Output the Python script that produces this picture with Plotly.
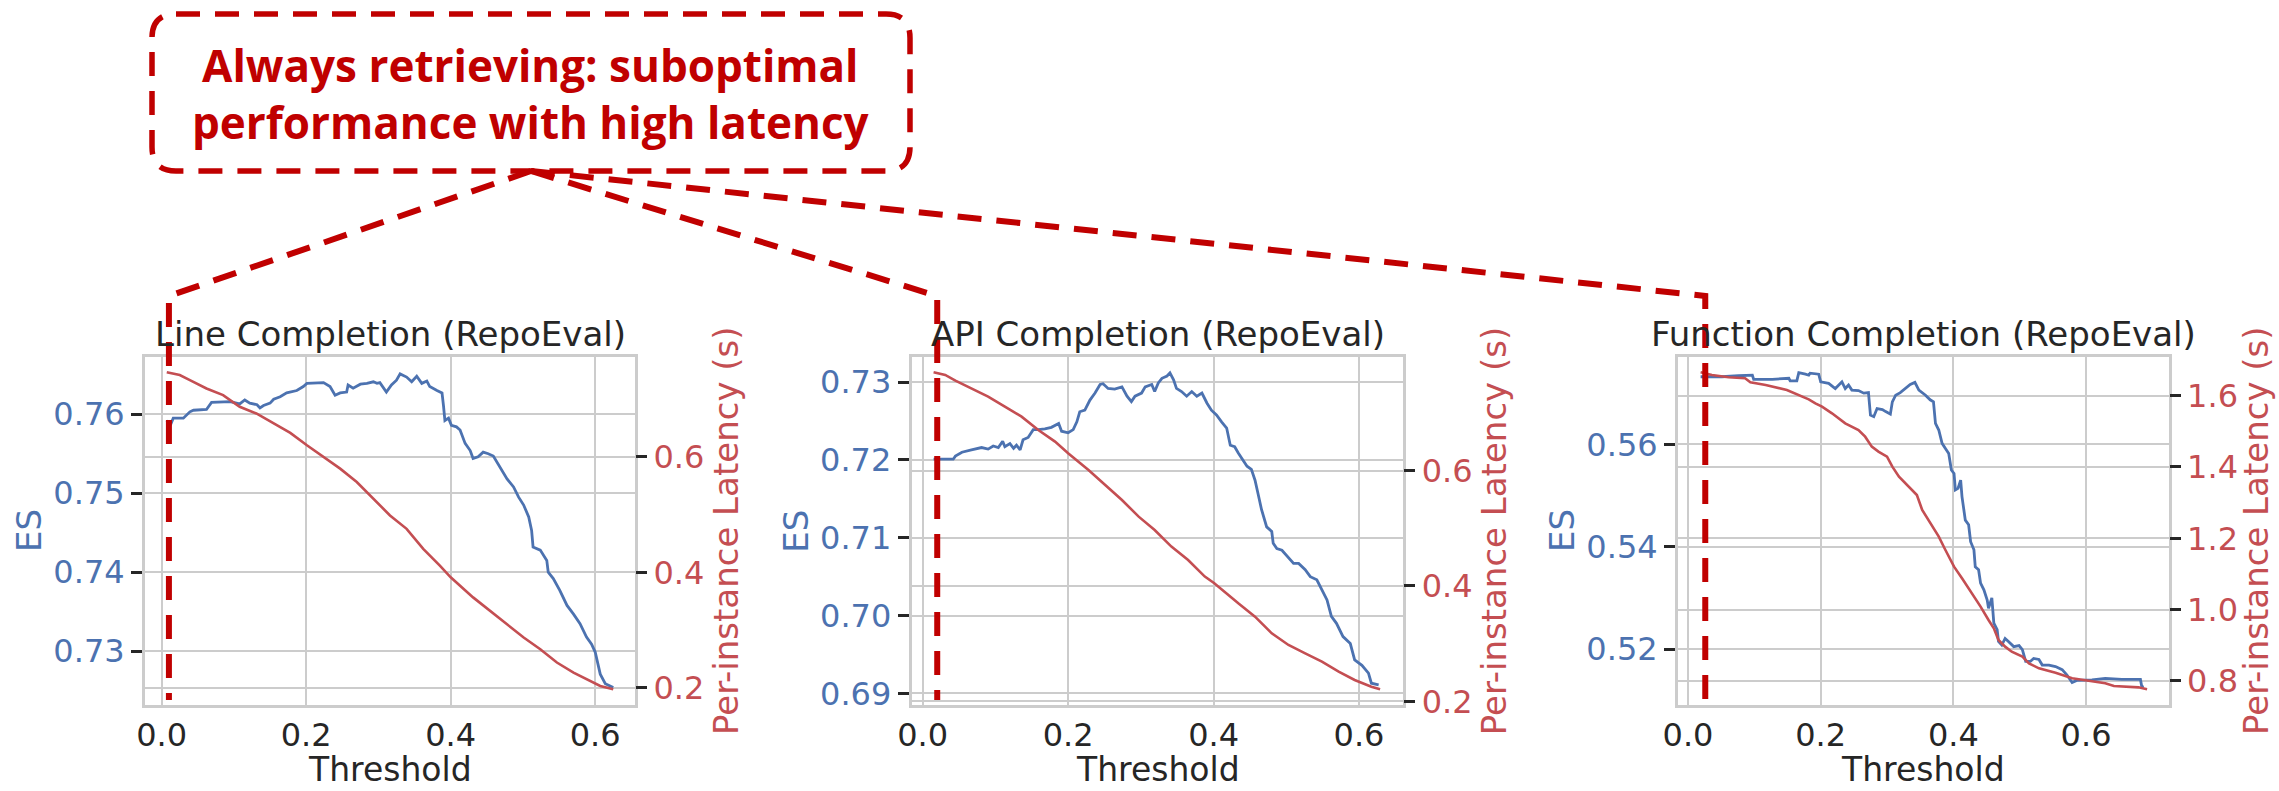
import plotly.graph_objects as go

W, H = 2279, 791

# ---------------- data ----------------
# Line Completion (RepoEval)
line_es_thr = [0.007, 0.012, 0.016, 0.030, 0.039, 0.044, 0.062, 0.069, 0.095, 0.108,
               0.115, 0.122, 0.132, 0.136, 0.141, 0.150, 0.155, 0.164, 0.173, 0.187,
               0.196, 0.201, 0.224, 0.233, 0.240, 0.247, 0.256, 0.258, 0.265, 0.275,
               0.284, 0.293, 0.298, 0.302, 0.311, 0.318, 0.325, 0.330, 0.339, 0.346,
               0.353, 0.360, 0.367, 0.371, 0.381, 0.388, 0.390, 0.392, 0.397, 0.401,
               0.408, 0.413, 0.420, 0.427, 0.431, 0.438, 0.445, 0.452, 0.459, 0.468,
               0.478, 0.487, 0.494, 0.501, 0.508, 0.512, 0.514, 0.524, 0.533, 0.535,
               0.542, 0.551, 0.561, 0.570, 0.579, 0.588, 0.595, 0.600, 0.603, 0.607,
               0.614, 0.625]
line_es = [0.7592, 0.7586, 0.7595, 0.7595, 0.7603, 0.7605, 0.7606, 0.7615, 0.7616, 0.7613,
           0.7618, 0.7614, 0.7612, 0.7608, 0.7611, 0.7614, 0.7619, 0.7622, 0.7627, 0.7630,
           0.7635, 0.7639, 0.7640, 0.7635, 0.7624, 0.7627, 0.7628, 0.7637, 0.7633, 0.7638,
           0.7639, 0.7641, 0.7639, 0.7640, 0.7628, 0.7637, 0.7643, 0.7651, 0.7647, 0.7641,
           0.7648, 0.7639, 0.7642, 0.7635, 0.7630, 0.7627, 0.7611, 0.7592, 0.7595, 0.7586,
           0.7584, 0.7580, 0.7563, 0.7554, 0.7544, 0.7546, 0.7552, 0.7550, 0.7547, 0.7533,
           0.7518, 0.7508, 0.7495, 0.7485, 0.7470, 0.7453, 0.7432, 0.7428, 0.7415, 0.7400,
           0.7392, 0.7377, 0.7358, 0.7347, 0.7335, 0.7318, 0.7309, 0.7299, 0.7288, 0.7271,
           0.7259, 0.7254]
line_lat_thr = [0.007, 0.025, 0.039, 0.062, 0.085, 0.108, 0.131, 0.155, 0.178, 0.201,
                0.224, 0.247, 0.270, 0.293, 0.316, 0.339, 0.362, 0.385, 0.400, 0.431,
                0.454, 0.478, 0.501, 0.524, 0.547, 0.570, 0.593, 0.607, 0.625]
line_lat = [0.7467, 0.7420, 0.7333, 0.7188, 0.7072, 0.6870, 0.6754, 0.6580, 0.6417, 0.6203,
            0.6000, 0.5797, 0.5565, 0.5275, 0.4986, 0.4754, 0.4406, 0.4116, 0.3913, 0.3565,
            0.3333, 0.3101, 0.2870, 0.2667, 0.2435, 0.2261, 0.2116, 0.2029, 0.1971]

# API Completion (RepoEval)
api_es_thr = [0.015, 0.042, 0.045, 0.054, 0.067, 0.081, 0.090, 0.097, 0.104, 0.110,
              0.113, 0.120, 0.125, 0.129, 0.134, 0.138, 0.145, 0.152, 0.159, 0.168,
              0.177, 0.187, 0.191, 0.200, 0.207, 0.212, 0.216, 0.223, 0.230, 0.237,
              0.244, 0.248, 0.255, 0.264, 0.274, 0.281, 0.287, 0.292, 0.301, 0.306,
              0.315, 0.319, 0.324, 0.329, 0.336, 0.340, 0.345, 0.349, 0.356, 0.363,
              0.370, 0.377, 0.384, 0.391, 0.397, 0.404, 0.411, 0.418, 0.423, 0.429,
              0.434, 0.441, 0.446, 0.452, 0.457, 0.462, 0.466, 0.473, 0.480, 0.482,
              0.487, 0.494, 0.503, 0.510, 0.517, 0.526, 0.533, 0.542, 0.549, 0.556,
              0.562, 0.569, 0.578, 0.588, 0.594, 0.604, 0.613, 0.617, 0.627]
api_es = [0.7201, 0.7201, 0.7205, 0.7210, 0.7213, 0.7216, 0.7214, 0.7218, 0.7216, 0.7224,
          0.7217, 0.7221, 0.7215, 0.7219, 0.7213, 0.7226, 0.7229, 0.7239, 0.7239, 0.7240,
          0.7242, 0.7247, 0.7237, 0.7235, 0.7239, 0.7249, 0.7262, 0.7264, 0.7277, 0.7286,
          0.7297, 0.7298, 0.7292, 0.7291, 0.7294, 0.7282, 0.7275, 0.7282, 0.7286, 0.7294,
          0.7297, 0.7288, 0.7299, 0.7305, 0.7308, 0.7312, 0.7303, 0.7292, 0.7288, 0.7282,
          0.7288, 0.7282, 0.7286, 0.7273, 0.7264, 0.7258, 0.7249, 0.7241, 0.7219, 0.7217,
          0.7209, 0.7200, 0.7192, 0.7188, 0.7174, 0.7153, 0.7136, 0.7114, 0.7108, 0.7093,
          0.7086, 0.7084, 0.7074, 0.7067, 0.7067, 0.7059, 0.7050, 0.7046, 0.7033, 0.7020,
          0.6999, 0.6990, 0.6973, 0.6964, 0.6943, 0.6936, 0.6926, 0.6913, 0.6911]
api_lat_thr = [0.015, 0.031, 0.045, 0.067, 0.090, 0.113, 0.136, 0.159, 0.182, 0.200,
               0.228, 0.251, 0.274, 0.297, 0.319, 0.342, 0.365, 0.388, 0.401, 0.434,
               0.457, 0.480, 0.503, 0.526, 0.549, 0.572, 0.594, 0.617, 0.629]
api_lat = [0.7705, 0.7659, 0.7561, 0.7428, 0.7283, 0.7110, 0.6936, 0.6705, 0.6503, 0.6301,
           0.6012, 0.5751, 0.5491, 0.5202, 0.4971, 0.4682, 0.4451, 0.4162, 0.4046, 0.3699,
           0.3468, 0.3179, 0.2977, 0.2832, 0.2688, 0.2514, 0.2370, 0.2254, 0.2208]

# Function Completion (RepoEval)
func_es_thr = [0.019, 0.051, 0.076, 0.097, 0.099, 0.127, 0.152, 0.154, 0.164, 0.167,
               0.177, 0.182, 0.184, 0.197, 0.200, 0.212, 0.222, 0.232, 0.237, 0.242,
               0.247, 0.257, 0.265, 0.272, 0.275, 0.280, 0.285, 0.293, 0.298, 0.305,
               0.308, 0.313, 0.320, 0.328, 0.335, 0.342, 0.348, 0.358, 0.365, 0.370,
               0.373, 0.378, 0.383, 0.388, 0.393, 0.397, 0.401, 0.403, 0.407, 0.411,
               0.413, 0.418, 0.423, 0.426, 0.431, 0.433, 0.438, 0.441, 0.446, 0.451,
               0.453, 0.458, 0.461, 0.466, 0.468, 0.473, 0.478, 0.483, 0.491, 0.499,
               0.504, 0.509, 0.516, 0.521, 0.529, 0.534, 0.544, 0.554, 0.564, 0.571,
               0.579, 0.586, 0.594, 0.609, 0.629, 0.654, 0.682, 0.684, 0.687]
func_es = [0.5732, 0.5732, 0.5734, 0.5735, 0.5727, 0.5727, 0.5729, 0.5724, 0.5724, 0.5740,
           0.5737, 0.5735, 0.5739, 0.5737, 0.5722, 0.5719, 0.5709, 0.5722, 0.5709, 0.5716,
           0.5706, 0.5705, 0.5700, 0.5701, 0.5657, 0.5654, 0.5670, 0.5668, 0.5664, 0.5659,
           0.5683, 0.5696, 0.5701, 0.5709, 0.5717, 0.5721, 0.5706, 0.5696, 0.5687, 0.5683,
           0.5641, 0.5628, 0.5602, 0.5592, 0.5582, 0.5550, 0.5543, 0.5511, 0.5514, 0.5530,
           0.5498, 0.5452, 0.5443, 0.5410, 0.5394, 0.5361, 0.5355, 0.5329, 0.5316, 0.5296,
           0.5280, 0.5300, 0.5251, 0.5238, 0.5215, 0.5208, 0.5221, 0.5215, 0.5205, 0.5207,
           0.5199, 0.5176, 0.5176, 0.5182, 0.5180, 0.5169, 0.5169, 0.5166, 0.5160, 0.5150,
           0.5135, 0.5139, 0.5139, 0.5140, 0.5143, 0.5141, 0.5141, 0.5127, 0.5126]
func_lat_thr = [0.019, 0.036, 0.061, 0.086, 0.094, 0.117, 0.149, 0.167, 0.182, 0.192,
                0.202, 0.217, 0.237, 0.257, 0.267, 0.277, 0.287, 0.300, 0.308, 0.318,
                0.333, 0.345, 0.353, 0.365, 0.378, 0.388, 0.401, 0.413, 0.428, 0.441,
                0.453, 0.461, 0.468, 0.478, 0.488, 0.504, 0.514, 0.529, 0.554, 0.579,
                0.604, 0.629, 0.642, 0.679, 0.692]
func_lat = [1.6654, 1.6579, 1.6514, 1.6486, 1.6374, 1.6299, 1.6159, 1.6019, 1.5897, 1.5785,
            1.5692, 1.5505, 1.5224, 1.5037, 1.4850, 1.4570, 1.4430, 1.4290, 1.4009, 1.3729,
            1.3449, 1.3215, 1.2794, 1.2421, 1.2047, 1.1673, 1.1206, 1.0879, 1.0458, 1.0084,
            0.9710, 0.9477, 0.9150, 0.8963, 0.8822, 0.8682, 0.8495, 0.8355, 0.8234, 0.8075,
            0.8009, 0.7935, 0.7860, 0.7822, 0.7766]

titles = ["Line Completion (RepoEval)", "API Completion (RepoEval)",
          "Function Completion (RepoEval)"]
x_ticks = [0.0, 0.2, 0.4, 0.6]
es_ticks = [[0.73, 0.74, 0.75, 0.76], [0.69, 0.70, 0.71, 0.72, 0.73], [0.52, 0.54, 0.56]]
lat_ticks = [[0.2, 0.4, 0.6], [0.2, 0.4, 0.6], [0.8, 1.0, 1.2, 1.4, 1.6]]
always_retrieve_thr = [0.010, 0.020, 0.026]
callout_text = "Always retrieving: suboptimal<br>performance with high latency"

series = [
    (line_es_thr, line_es, line_lat_thr, line_lat),
    (api_es_thr, api_es, api_lat_thr, api_lat),
    (func_es_thr, func_es, func_lat_thr, func_lat),
]

# ---------------- layout geometry (pixels) ----------------
panel_px = [(145, 635), (911.7, 1403.3), (1678, 2168.7)]
plot_top, plot_bot = 357.3, 705.0
x_ranges = [(-0.0231, 0.6551), (-0.0151, 0.6609), (-0.0151, 0.7246)]
es_ranges = [(0.7232, 0.7672), (0.6885, 0.7332), (0.5091, 0.5770)]
lat_ranges = [(0.1699, 0.7728), (0.1936, 0.7965), (0.7327, 1.7075)]

BLUE = "#4c72b0"
RED = "#c44e52"
DARK = "#262626"
GRID = "#cccccc"
CALL = "#c00000"
FONT = "DejaVu Sans"


def px(x):
    return x / W


def py(y):
    return 1 - y / H


fig = go.Figure()
layout = dict(
    template="none",
    width=W, height=H, autosize=False,
    margin=dict(l=0, r=0, t=0, b=0, pad=0),
    paper_bgcolor="white", plot_bgcolor="white",
    showlegend=False,
    font=dict(family=FONT, color=DARK),
)

annotations = []
shapes = []
ydom = [py(plot_bot), py(plot_top)]

for i in range(3):
    xs_es, es, xs_lat, lat = series[i]
    xa = "x" if i == 0 else f"x{i+1}"
    ya = f"y{2*i+1}" if i > 0 else "y"
    yb = f"y{2*i+2}"
    fig.add_trace(go.Scatter(x=xs_es, y=es, mode="lines", xaxis=xa, yaxis=ya,
                             line=dict(color=BLUE, width=2.8), name="ES"))
    fig.add_trace(go.Scatter(x=xs_lat, y=lat, mode="lines", xaxis=xa, yaxis=yb,
                             line=dict(color=RED, width=2.6), name="Latency"))

    l, r = panel_px[i]
    xkey = "xaxis" if i == 0 else f"xaxis{i+1}"
    ykey = "yaxis" if i == 0 else f"yaxis{2*i+1}"
    y2key = f"yaxis{2*i+2}"
    layout[xkey] = dict(
        domain=[px(l), px(r)], range=list(x_ranges[i]), anchor=ya, automargin=False,
        tickvals=x_ticks, tickformat=".1f", ticks="",
        tickfont=dict(size=32, color=DARK, family=FONT),
        showgrid=True, gridcolor=GRID, gridwidth=2,
        showline=True, mirror=True, linecolor=GRID, linewidth=3,
        zeroline=False,
    )
    layout[ykey] = dict(
        domain=ydom, range=list(es_ranges[i]), anchor=xa, automargin=False,
        tickvals=es_ticks[i], tickformat=".2f",
        ticks="outside", ticklen=11, tickwidth=2.5, tickcolor=DARK,
        tickfont=dict(size=32, color=BLUE, family=FONT),
        showgrid=True, gridcolor=GRID, gridwidth=2,
        showline=True, mirror=True, linecolor=GRID, linewidth=3,
        zeroline=False,
    )
    layout[y2key] = dict(
        domain=ydom, range=list(lat_ranges[i]), anchor=xa, overlaying=ya, side="right",
        automargin=False,
        tickvals=lat_ticks[i], tickformat=".1f",
        ticks="outside", ticklen=11, tickwidth=2.5, tickcolor=DARK,
        tickfont=dict(size=32, color=RED, family=FONT),
        showgrid=True, gridcolor=GRID, gridwidth=2,
        showline=False, zeroline=False,
    )

    cx = (l + r) / 2
    annotations.append(dict(text=titles[i], x=px(cx), y=py(334), xref="paper", yref="paper",
                            xanchor="center", yanchor="middle", showarrow=False,
                            font=dict(size=34, color=DARK, family=FONT)))
    annotations.append(dict(text="Threshold", x=px(cx), y=0, xref="paper", yref="paper",
                            xanchor="center", yanchor="bottom", showarrow=False,
                            font=dict(size=33, color=DARK, family=FONT)))
    annotations.append(dict(text="ES", x=px(l - 116), y=py(531), xref="paper", yref="paper",
                            xanchor="center", yanchor="middle", showarrow=False, textangle=-90,
                            font=dict(size=34, color=BLUE, family=FONT)))
    annotations.append(dict(text="Per-instance Latency (s)", x=px(min(r + 91, 2256)), y=py(531),
                            xref="paper", yref="paper", xanchor="center", yanchor="middle",
                            showarrow=False, textangle=-90,
                            font=dict(size=34, color=RED, family=FONT)))

    # connector from callout to the "always retrieve" threshold line
    x0r, x1r = x_ranges[i]
    vx = l + (always_retrieve_thr[i] - x0r) / (x1r - x0r) * (r - l)
    apex = (531, 171)
    path = (f"M {px(apex[0])},{py(apex[1])} L {px(vx)},{py(296)} "
            f"L {px(vx)},{py(700)}")
    shapes.append(dict(type="path", path=path, xref="paper", yref="paper", layer="above",
                       line=dict(color=CALL, width=6, dash="24px,15px")))

# rounded dashed callout box
bx0, by0, bx1, by1, rr = 152, 14, 910, 171, 24
box = (f"M {px(bx0+rr)},{py(by0)} L {px(bx1-rr)},{py(by0)} "
       f"Q {px(bx1)},{py(by0)} {px(bx1)},{py(by0+rr)} "
       f"L {px(bx1)},{py(by1-rr)} Q {px(bx1)},{py(by1)} {px(bx1-rr)},{py(by1)} "
       f"L {px(bx0+rr)},{py(by1)} Q {px(bx0)},{py(by1)} {px(bx0)},{py(by1-rr)} "
       f"L {px(bx0)},{py(by0+rr)} Q {px(bx0)},{py(by0)} {px(bx0+rr)},{py(by0)} Z")
shapes.append(dict(type="path", path=box, xref="paper", yref="paper", layer="above",
                   line=dict(color=CALL, width=5.5, dash="24px,15px")))
annotations.append(dict(text=callout_text, x=px(531), y=py(93), xref="paper", yref="paper",
                        xanchor="center", yanchor="middle", showarrow=False, align="center",
                        font=dict(size=44, color=CALL, family="Open Sans", weight=700)))

layout["annotations"] = annotations
layout["shapes"] = shapes
fig.update_layout(**layout)
fig.write_html(
    "out.html",
    config={"displayModeBar": False},
    post_script="document.body.style.margin='0';document.body.style.padding='0';"
                "document.body.style.overflow='hidden';",
)
